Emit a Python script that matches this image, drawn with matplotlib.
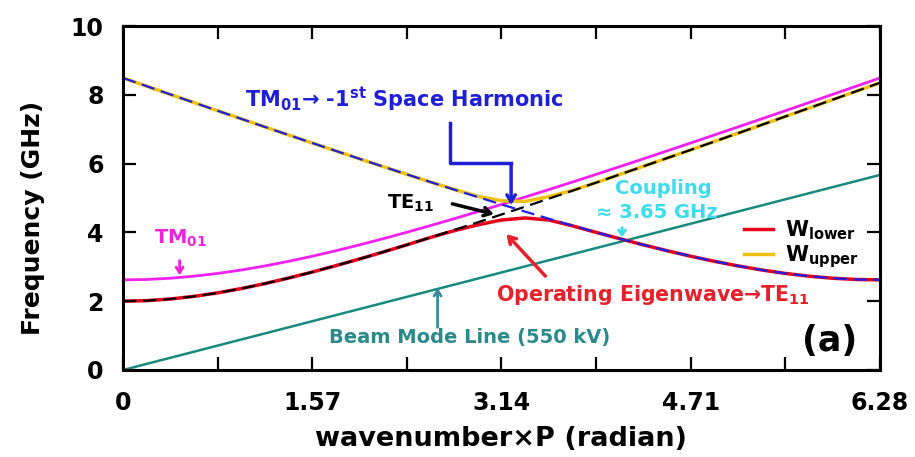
import numpy as np
import matplotlib
matplotlib.use("Agg")
import matplotlib.pyplot as plt
from matplotlib.lines import Line2D

k = [0.0, 0.196, 0.3925, 0.589, 0.785, 0.981, 1.1775, 1.374, 1.57, 1.766,
     1.9625, 2.159, 2.355, 2.551, 2.7475, 2.944, 3.14, 3.336, 3.5325, 3.729,
     3.925, 4.121, 4.3175, 4.514, 4.71, 4.906, 5.1025, 5.299, 5.495, 5.691,
     5.8875, 6.084, 6.28]
tm01 = [2.62, 2.631, 2.667, 2.727, 2.807, 2.907, 3.025, 3.159, 3.307, 3.467,
        3.637, 3.817, 4.004, 4.198, 4.398, 4.604, 4.813, 5.027, 5.244, 5.464,
        5.687, 5.912, 6.139, 6.369, 6.599, 6.832, 7.066, 7.301, 7.537, 7.774,
        8.012, 8.251, 8.49]
te11 = [2.0, 2.016, 2.063, 2.140, 2.242, 2.367, 2.512, 2.673, 2.847, 3.033,
        3.227, 3.430, 3.639, 3.853, 4.072, 4.294, 4.520, 4.748, 4.979, 5.212,
        5.447, 5.683, 5.921, 6.160, 6.399, 6.641, 6.883, 7.126, 7.370, 7.613,
        7.858, 8.104, 8.349]
harm = [8.49, 8.251, 8.012, 7.774, 7.537, 7.301, 7.066, 6.832, 6.599, 6.369,
        6.139, 5.912, 5.687, 5.464, 5.244, 5.027, 4.813, 4.604, 4.398, 4.198,
        4.004, 3.817, 3.637, 3.467, 3.307, 3.159, 3.025, 2.907, 2.807, 2.727,
        2.667, 2.631, 2.62]
w_lower = [2.0, 2.016, 2.063, 2.140, 2.242, 2.367, 2.512, 2.673, 2.847, 3.033,
           3.227, 3.430, 3.639, 3.853, 4.05, 4.22, 4.36, 4.42, 4.36, 4.19,
           4.00, 3.817, 3.637, 3.467, 3.307, 3.159, 3.025, 2.907, 2.807, 2.727,
           2.667, 2.631, 2.62]
w_upper = [8.49, 8.251, 8.012, 7.774, 7.537, 7.301, 7.066, 6.832, 6.599, 6.369,
           6.139, 5.912, 5.687, 5.464, 5.25, 5.05, 4.92, 4.90, 5.04, 5.22,
           5.447, 5.683, 5.921, 6.160, 6.399, 6.641, 6.883, 7.126, 7.370, 7.613,
           7.858, 8.104, 8.349]
beam_k = [0, 6.28]
beam = [0.0, 5.67]

xticks = [0, 0.785, 1.57, 2.355, 3.14, 3.925, 4.71, 5.495, 6.28]
xticklabels = ['0', '', '1.57', '', '3.14', '', '4.71', '', '6.28']
yticks = [0, 2, 4, 6, 8, 10]

plt.rcParams['font.family'] = 'DejaVu Sans'
plt.rcParams['font.weight'] = 'bold'
plt.rcParams['mathtext.fontset'] = 'dejavusans'

fig = plt.figure(figsize=(9.15, 4.57), dpi=100)
ax = fig.add_axes([0.1344, 0.1904, 0.8273, 0.7527])

ax.plot(k, tm01, color='#f020f0', lw=2)
ax.plot(beam_k, beam, color='#178a7e', lw=1.8)
ax.plot(k, w_lower, color='#e8001a', lw=2.5)
ax.plot(k, w_upper, color='#f0c010', lw=2.5)
ax.plot(k, te11, color='black', lw=1.6, dashes=(6, 3))
ax.plot(k, harm, color='#2020e0', lw=1.6, dashes=(6, 3))

ax.set_xlim(0, 6.28)
ax.set_ylim(0, 10)
ax.set_xticks(xticks)
ax.set_xticklabels(xticklabels)
ax.set_yticks(yticks)
ax.tick_params(direction='in', length=9.5, width=1.6, top=True, right=True,
               labelsize=17)
ax.tick_params(axis='x', pad=15)
ax.tick_params(axis='y', pad=14)
for s in ax.spines.values():
    s.set_linewidth(2.2)

ax.set_xlabel('wavenumber×P (radian)', fontsize=19.5, fontweight='bold', labelpad=8)
ax.set_ylabel('Frequency (GHz)', fontsize=18, fontweight='bold')
ax.yaxis.set_label_coords(-0.103, 0.442)

# annotations
ax.text(1.01, 7.85, r'TM$_\mathbf{01}$→ -1$^\mathbf{st}$ Space Harmonic',
        color='#1f1fd8', fontsize=15, fontweight='bold', ha='left', va='center')
ax.plot([2.71, 2.71, 3.22], [7.18, 6.02, 6.02], color='#1f1fd8', lw=2.5)
ax.annotate('', xy=(3.22, 4.71), xytext=(3.22, 6.04),
            arrowprops=dict(arrowstyle='->,head_length=0.5,head_width=0.3',
                            color='#1f1fd8', lw=2.5))

ax.text(2.19, 4.85, r'TE$_\mathbf{11}$', color='black', fontsize=14,
        fontweight='bold', ha='left', va='center')
ax.annotate('', xy=(3.10, 4.51), xytext=(2.71, 4.85),
            arrowprops=dict(arrowstyle='->,head_length=0.5,head_width=0.3',
                            color='black', lw=2.5))

ax.text(4.48, 5.29, 'Coupling', color='#3ddcec', fontsize=14,
        fontweight='bold', ha='center', va='center')
ax.text(4.43, 4.59, '≈ 3.65 GHz', color='#3ddcec', fontsize=14,
        fontweight='bold', ha='center', va='center')
ax.annotate('', xy=(4.14, 3.78), xytext=(4.14, 4.22),
            arrowprops=dict(arrowstyle='->,head_length=0.35,head_width=0.25',
                            color='#3ddcec', lw=2))

ax.text(0.48, 3.84, r'TM$_\mathbf{01}$', color='#ee22dd', fontsize=14,
        fontweight='bold', ha='center', va='center')
ax.annotate('', xy=(0.47, 2.67), xytext=(0.47, 3.26),
            arrowprops=dict(arrowstyle='->,head_length=0.4,head_width=0.25',
                            color='#ee22dd', lw=2))

ax.text(4.40, 2.18, r'Operating Eigenwave→TE$_\mathbf{11}$', color='#e8202a',
        fontsize=14.8, fontweight='bold', ha='center', va='center')
ax.annotate('', xy=(3.165, 4.01), xytext=(3.52, 2.67),
            arrowprops=dict(arrowstyle='->,head_length=0.5,head_width=0.3',
                            color='#e8202a', lw=2.5))

ax.text(2.875, 0.93, 'Beam Mode Line (550 kV)', color='#2a8a8a', fontsize=14,
        fontweight='bold', ha='center', va='center')
ax.annotate('', xy=(2.61, 2.47), xytext=(2.61, 1.16),
            arrowprops=dict(arrowstyle='->,head_length=0.4,head_width=0.25',
                            color='#3a8aa0', lw=2))

ax.text(5.86, 0.84, '(a)', color='black', fontsize=25, fontweight='bold',
        ha='center', va='center')

handles = [Line2D([], [], color='#e8001a', lw=2.5),
           Line2D([], [], color='#f0c010', lw=2.5)]
ax.legend(handles, [r'W$_\mathbf{lower}$', r'W$_\mathbf{upper}$'],
          loc='center left', bbox_to_anchor=(0.795, 0.365), frameon=False,
          fontsize=15, handlelength=1.4, handletextpad=0.6, labelspacing=0.05)

fig.savefig('out.png', dpi=100)
